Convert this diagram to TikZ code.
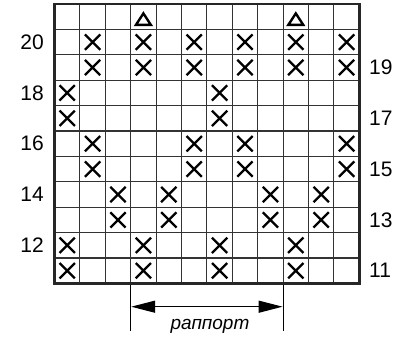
\documentclass[tikz,border=0pt]{standalone}
\usepackage{fontspec}
\setmainfont{Liberation Sans}
\usetikzlibrary{shapes.misc,arrows.meta}
\begin{document}
\begin{tikzpicture}[x=1pt,y=-1pt,
  gridline/.style={line width=1.1pt, draw=black!80},
  border/.style={line width=2.8pt, draw=black!85},
  xmark/.style={cross out, draw=black, line width=2.3pt, minimum width=13pt, minimum height=13pt, inner sep=0pt},
  tmark/.style={draw=black, line width=2.4pt, line join=miter},
  rownum/.style={font=\fontsize{21}{25}\selectfont, inner sep=0pt},
  rapline/.style={line width=1pt, draw=black},
  raparrow/.style={line width=1.2pt, draw=black, {Triangle[length=24pt,width=12pt]}-{Triangle[length=24pt,width=12pt]}},
  raptext/.style={font=\fontsize{19}{23}\selectfont\itshape, inner sep=0pt, anchor=base}
]
\useasboundingbox (0,0) rectangle (408,338);
\def\L{54.5}\def\T{4}\def\C{25.4}
\pgfmathsetmacro{\R}{\L+12*\C}
\pgfmathsetmacro{\B}{\T+11*\C}
% inner grid
\foreach \i in {1,...,11}{
  \draw[gridline] ({\L+\i*\C},\T) -- ({\L+\i*\C},\B);
}
\foreach \i in {1,...,10}{
  \draw[gridline] (\L,{\T+\i*\C}) -- (\R,{\T+\i*\C});
}
\draw[border] (\L,\T) rectangle (\R,\B);
% triangles
\foreach \cc in {4,10}{
  \pgfmathsetmacro{\cx}{\L+(\cc-0.5)*\C}
  \draw[tmark] ({\cx-7.4},24.8) -- (\cx,13.4) -- ({\cx+7.4},24.8) -- cycle;
}
% crosses
\foreach \r/\cols in {2/{2,4,6,8,10,12},3/{2,4,6,8,10,12},4/{1,7},5/{1,7},6/{2,6,8,12},7/{2,6,8,12},8/{3,5,9,11},9/{3,5,9,11},10/{1,4,7,10},11/{1,4,7,10}}{
  \foreach \cc in \cols {
    \node[xmark] (x-\r-\cc) at ({\L+(\cc-0.5)*\C},{\T+(\r-0.5)*\C}) {};
  }
}
% row numbers
\foreach \r in {2,4,6,8,10}{
  \pgfmathtruncatemacro{\n}{22-\r}
  \node[rownum, anchor=east] (n-\r) at (44,{\T+(\r-0.5)*\C}) {\n};
}
\foreach \r in {3,5,7,9,11}{
  \pgfmathtruncatemacro{\n}{22-\r}
  \node[rownum, anchor=west] (n-\r) at (369,{\T+(\r-0.5)*\C}) {\n};
}
% rapport
\coordinate (rlt) at ({\L+3*\C},285);
\coordinate (rlb) at ({\L+3*\C},331);
\coordinate (rrt) at ({\L+9*\C},285);
\coordinate (rrb) at ({\L+9*\C},331);
\coordinate (al) at ({\L+3*\C+0.5},306.7);
\coordinate (ar) at ({\L+9*\C-0.5},306.7);
\draw[rapline] (rlt) -- (rlb);
\draw[rapline] (rrt) -- (rrb);
\draw[raparrow] (al) -- (ar);
\node[raptext] (rap) at (210,329.3) {раппорт};
\end{tikzpicture}
\end{document}
